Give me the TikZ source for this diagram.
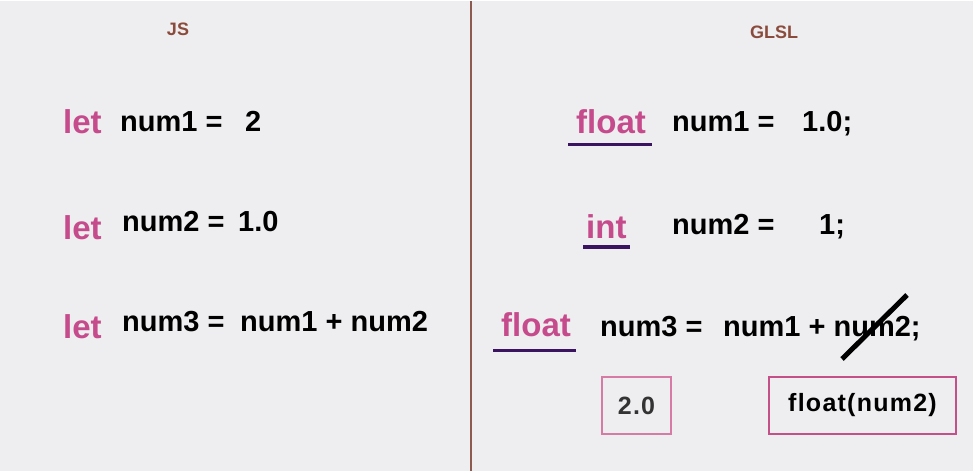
\documentclass[tikz,border=0pt]{standalone}
\usepackage{fontspec}
\setmainfont{Liberation Sans}
\newfontfamily\boxfont[LetterSpace=5]{Liberation Sans}
\usetikzlibrary{positioning}
\definecolor{bgpaper}{HTML}{EEEDF0}
\definecolor{kwpink}{HTML}{C64B8C}
\definecolor{ulpurple}{HTML}{3B1461}
\definecolor{headbrown}{HTML}{8A4B3C}
\definecolor{divbrown}{HTML}{8C5A4E}
\definecolor{boxlight}{HTML}{D67AA6}
\definecolor{boxdark}{HTML}{C4508A}
\definecolor{valgray}{HTML}{333333}
\tikzset{
  kw/.style={anchor=base west, inner sep=0pt, text=kwpink,
    font=\fontsize{33}{36}\selectfont\bfseries},
  code/.style={anchor=base west, inner sep=0pt,
    font=\fontsize{29}{32}\selectfont\bfseries},
  head/.style={text=headbrown, inner sep=0pt,
    font=\fontsize{18}{20}\selectfont\bfseries},
  uline/.style={draw=ulpurple, line width=3.5pt},
  valbox/.style={draw=#1, line width=2.5pt, inner sep=0pt,
    minimum height=57pt, font=\boxfont\fontsize{25}{28}\selectfont\bfseries},
  valbox/.default=boxdark,
  strike/.style={draw=black, line width=5pt},
  divider/.style={draw=divbrown, line width=2pt}
}
\begin{document}
\begin{tikzpicture}[x=1pt, y=-1pt]
  \fill[bgpaper] (0,0) rectangle (973,470);
  \draw[divider] (471,0) -- (471,470);

  % JS side
  \node[head] (hjs) at (178,28) {JS};
  \node[kw] (l1) at (63,132) {let};
  \node[code] (a1) at (120,130) {num1 =};
  \node[code] (b1) at (245,130) {2};
  \node[kw] (l2) at (63,238) {let};
  \node[code] (a2) at (122,230) {num2 =};
  \node[code] (b2) at (238,230) {1.0};
  \node[kw] (l3) at (63,337) {let};
  \node[code] (a3) at (122,330) {num3 =};
  \node[code] (b3) at (240,330) {num1 + num2};

  % GLSL side
  \node[head] (hgl) at (774,31) {GLSL};
  \node[kw] (f1) at (576,132) {float};
  \node[code] (c1) at (672,130) {num1 =};
  \node[code] (d1) at (802,130) {1.0;};
  \node[kw] (i2) at (586,237) {int};
  \node[code] (c2) at (672,233) {num2 =};
  \node[code] (d2) at (819,233) {1;};
  \node[kw] (f3) at (501,335) {float};
  \node[code] (c3) at (600,335) {num3 =};
  \node[code] (d3) at (723,335) {num1 + num2;};
  \draw[uline] ([xshift=-8pt,yshift=-11.5pt]f1.base west) -- ([xshift=6pt,yshift=-11.5pt]f1.base east);
  \draw[uline] ([xshift=-3pt,yshift=-9pt]i2.base west) -- ([xshift=3pt,yshift=-9pt]i2.base east);
  \draw[uline] ([xshift=-8pt,yshift=-14.5pt]f3.base west) -- ([xshift=5pt,yshift=-14.5pt]f3.base east);
  \draw[strike] (842,358) -- (907,294);

  \node[valbox=boxlight, minimum width=69pt, text=valgray] (v1) at (636.5,404.5) {2.0};
  \node[valbox, minimum width=187pt] (v2) at (862.5,404.5) {float(num2)};
\end{tikzpicture}
\end{document}
